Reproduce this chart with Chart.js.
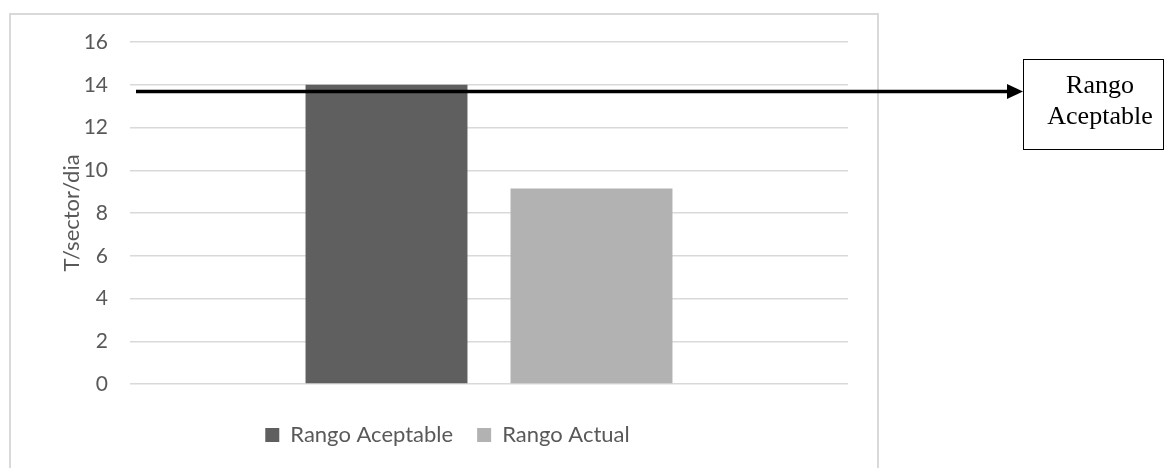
<!DOCTYPE html>
<html>
<head>
<meta charset="utf-8">
<script src="https://cdn.jsdelivr.net/npm/chart.js@4.4.1/dist/chart.umd.min.js"></script>
<style>
  html, body { margin: 0; padding: 0; background: #ffffff; }
  #wrap { position: relative; width: 1165px; height: 468px; }
</style>
</head>
<body>
<div id="wrap"><canvas id="chart" width="1165" height="468"></canvas></div>
<script>
// Chart data
const categories = [''];
const seriesNames = ['Rango Aceptable', 'Rango Actual'];
const rangoAceptable = [14];
const rangoActual = [9.15];
const seriesColors = ['#5f5f5f', '#b2b2b2'];
const yAxisTitle = 'T/sector/dia';
const yTickMax = 16;
const yTickStep = 2;
// Level marked by the arrow and the callout it points to
const markerLevel = [13.68];
const calloutLines = ['Rango', 'Aceptable'];

const textColor = '#595959';
const gridColor = '#d9d9d9';
const uiFont = 'Lato, "Open Sans", sans-serif';

// Frame around the plot, arrow and callout box
const decorations = {
  id: 'decorations',
  beforeDraw(chart) {
    const ctx = chart.ctx;
    ctx.save();
    ctx.strokeStyle = gridColor;
    ctx.lineWidth = 2;
    ctx.strokeRect(10, 14, 868, 470);
    ctx.restore();
  },
  afterDatasetsDraw(chart) {
    const ctx = chart.ctx;
    const y = chart.scales.y.getPixelForValue(markerLevel[0]);
    const x0 = chart.chartArea.left + 6;
    const boxL = 1023, boxT = 59, boxR = 1164, boxB = 150;
    const headLen = 16, headHalf = 7.5;
    ctx.save();
    // arrow shaft
    ctx.strokeStyle = '#000000';
    ctx.lineWidth = 3.5;
    ctx.beginPath();
    ctx.moveTo(x0, y);
    ctx.lineTo(boxL - headLen + 1, y);
    ctx.stroke();
    // arrow head
    ctx.fillStyle = '#000000';
    ctx.beginPath();
    ctx.moveTo(boxL, y);
    ctx.lineTo(boxL - headLen, y - headHalf);
    ctx.lineTo(boxL - headLen, y + headHalf);
    ctx.closePath();
    ctx.fill();
    // callout box
    ctx.fillStyle = '#ffffff';
    ctx.fillRect(boxL, boxT, boxR - boxL, boxB - boxT);
    ctx.strokeStyle = '#000000';
    ctx.lineWidth = 1;
    ctx.strokeRect(boxL + 0.5, boxT + 0.5, boxR - boxL - 1, boxB - boxT - 1);
    ctx.fillStyle = '#000000';
    ctx.font = '26px "Liberation Serif", "Times New Roman", serif';
    ctx.textAlign = 'center';
    ctx.textBaseline = 'alphabetic';
    const cx = 1100;
    calloutLines.forEach((t, i) => ctx.fillText(t, cx, 93 + i * 31));
    ctx.restore();
  }
};

new Chart(document.getElementById('chart'), {
  type: 'bar',
  data: {
    labels: categories,
    datasets: [
      { label: seriesNames[0], data: rangoAceptable, backgroundColor: seriesColors[0] },
      { label: seriesNames[1], data: rangoActual, backgroundColor: seriesColors[1] }
    ]
  },
  options: {
    responsive: false,
    animation: false,
    devicePixelRatio: 1,
    layout: { padding: { left: 17, right: 287, top: 42, bottom: 12 } },
    datasets: { bar: { categoryPercentage: 0.571, barPercentage: 0.79 } },
    scales: {
      x: {
        grid: { display: false },
        border: { display: false },
        ticks: { display: false },
        afterFit(s) { s.height = 16; }
      },
      y: {
        min: 0,
        max: yTickMax,
        ticks: {
          stepSize: yTickStep,
          color: textColor,
          font: { family: uiFont, size: 21 },
          padding: 22
        },
        grid: { color: gridColor, lineWidth: 1.5, drawTicks: false },
        border: { display: false },
        title: {
          display: true,
          text: yAxisTitle,
          color: textColor,
          font: { family: uiFont, size: 22 },
          padding: { top: 42, bottom: 0 }
        },
        afterFit(s) { s.width = 113; }
      },
      yRight: {
        position: 'right',
        display: true,
        grid: { display: false },
        border: { display: false },
        ticks: { display: false },
        afterFit(s) { s.width = 30; }
      }
    },
    plugins: {
      legend: {
        position: 'bottom',
        labels: {
          color: textColor,
          font: { family: uiFont, size: 22 },
          boxWidth: 14,
          boxHeight: 14,
          padding: 24
        }
      },
      tooltip: { enabled: false }
    }
  },
  plugins: [decorations]
});
</script>
</body>
</html>
